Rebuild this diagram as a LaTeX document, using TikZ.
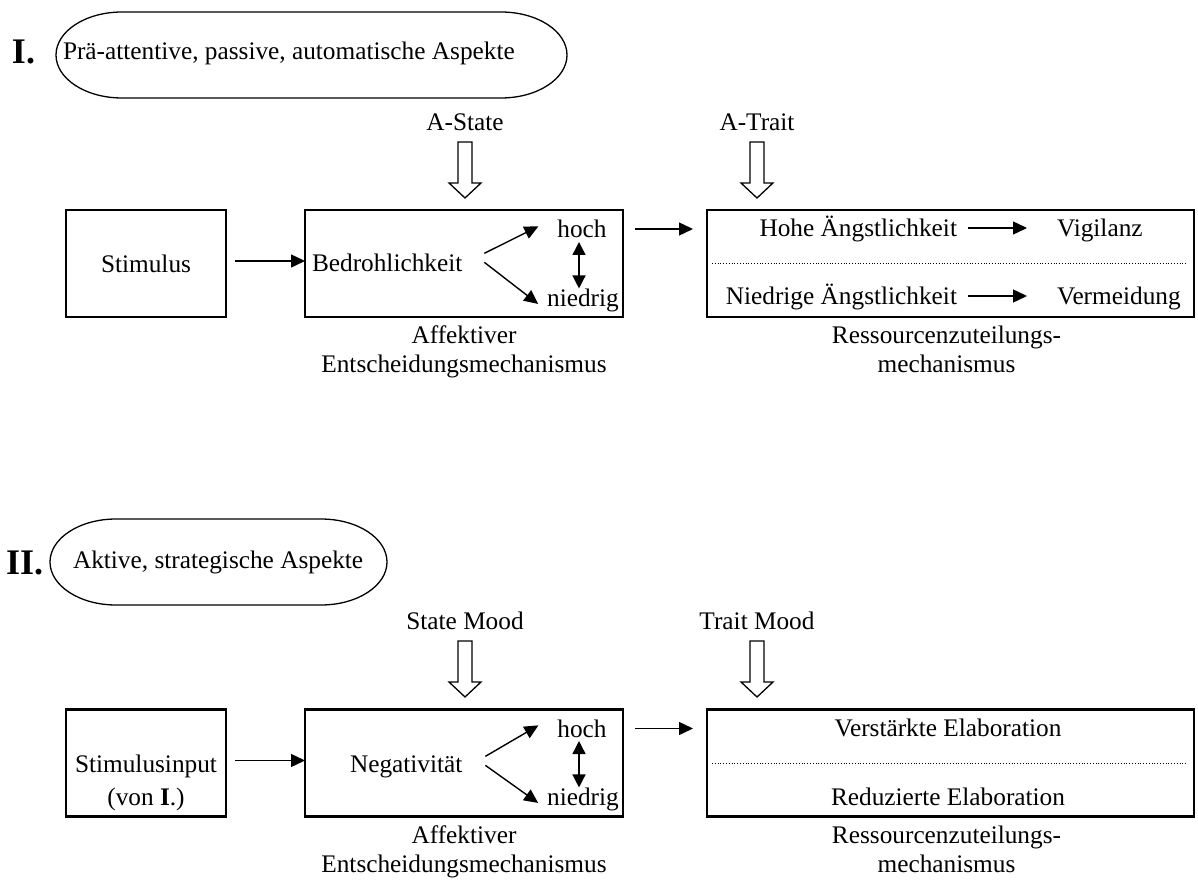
\documentclass[tikz,border=0pt]{standalone}
\usepackage{fontspec}
\setmainfont{Liberation Serif}
\usetikzlibrary{arrows.meta}
\begin{document}
\begin{tikzpicture}[x=1pt,y=-1pt,
  every node/.style={inner sep=0pt, outer sep=0pt, font=\fontsize{25.3}{29}\selectfont},
  box/.style={draw, line width=2.4pt, minimum height=107pt},
  arr/.style={line width=1.4pt, -{Triangle[length=14pt,width=13pt]}},
  darr/.style={line width=1.4pt, {Triangle[length=13pt,width=13pt]}-{Triangle[length=13pt,width=13pt]}},
  dotline/.style={dotted, line width=0.8pt},
  oval/.style={line width=1.3pt},
  roman/.style={font=\fontsize{36}{40}\selectfont\bfseries},
  lbl/.style={align=center, anchor=north},
  hollowarrow/.pic={\draw[line width=1.3pt] (-7,0) -- (7,0) -- (7,41) -- (16,41) -- (0,56) -- (-16,41) -- (-7,41) -- cycle;}
]
\useasboundingbox (0,0) rectangle (1198,882);

% ---------------- Part I ----------------
\node[roman, anchor=base west] (r1) at (12,64) {I.};
\draw[oval] (122,12) -- (501,12) arc[start angle=-90,end angle=90,x radius=66,y radius=43]
  -- (122,98) arc[start angle=90,end angle=270,x radius=66,y radius=43] -- cycle;
\node[anchor=base west] (h1) at (63,60) {Prä-attentive, passive, automatische Aspekte};

\node (astate) at (465,122) {A-State};
\pic at (465,142) {hollowarrow};
\node (atrait) at (757,122) {A-Trait};
\pic at (757,142) {hollowarrow};

\node[box, minimum width=160pt] (s1) at (146,263.5) {Stimulus};
\node[box, minimum width=318pt] (b1) at (464,263.5) {};
\node[box, minimum width=487pt] (c1) at (950.5,263.5) {};

\node[anchor=base west] (bed) at (312,272) {Bedrohlichkeit};
\node[anchor=base] (hoch1) at (582,238) {hoch};
\node[anchor=base] (nied1) at (583,306) {niedrig};
\draw[arr] ([shift={(22pt,10pt)}]bed.east) -- ([shift={(-19pt,3pt)}]hoch1.west);
\draw[arr] ([shift={(22pt,1pt)}]bed.east) -- ([shift={(-9pt,-4pt)}]nied1.west);
\draw[darr] ([shift={(-3pt,-4pt)}]hoch1.base) -- ([xshift=-3pt]hoch1.base |- nied1.north);

\draw[arr] ([yshift=2.5pt]s1.east) ++(9pt,0) -- ([yshift=2.5pt]b1.west);
\draw[arr] ([shift={(12pt,-19pt)}]b1.north east) -- ([shift={(-14pt,-19pt)}]c1.north west);

\node[anchor=base east] (hohe) at (957,237) {Hohe Ängstlichkeit};
\node[anchor=base west] (vig) at (1057,237) {Vigilanz};
\draw[arr] ([shift={(11pt,9pt)}]hohe.base east) -- ([shift={(-30pt,9pt)}]vig.base west);
\draw[dotline] ([xshift=5pt]c1.west) -- ([xshift=-7pt]c1.east);
\node[anchor=base east] (niedA) at (957,305) {Niedrige Ängstlichkeit};
\node[anchor=base west] (verm) at (1057,305) {Vermeidung};
\draw[arr] ([shift={(11pt,9pt)}]niedA.base east) -- ([shift={(-30pt,9pt)}]verm.base west);

\node[lbl] (l1) at ([yshift=-9pt]b1.south) {Affektiver\\Entscheidungsmechanismus};
\node[lbl] (l2) at ([shift={(-4pt,-9pt)}]c1.south) {Ressourcenzuteilungs-\\mechanismus};

% ---------------- Part II ----------------
\node[roman, anchor=base west] (r2) at (6,574) {II.};
\draw[oval] (116,519) -- (321,519) arc[start angle=-90,end angle=90,x radius=66,y radius=43]
  -- (116,605) arc[start angle=90,end angle=270,x radius=66,y radius=43] -- cycle;
\node[anchor=base west] (h2) at (73,568) {Aktive, strategische Aspekte};

\node (smood) at (465,621) {State Mood};
\pic at (465,641) {hollowarrow};
\node (tmood) at (757,621) {Trait Mood};
\pic at (757,641) {hollowarrow};

\node[box, minimum width=160pt] (s2) at (146,763) {};
\node[box, minimum width=318pt] (b2) at (464,763) {};
\node[box, minimum width=487pt] (c2) at (950.5,763) {};

\node[anchor=base] (si1) at (146,772) {Stimulusinput};
\node[anchor=base] (si2) at (146,805) {(von \textbf{I}.)};

\node[anchor=base west] (neg) at (350,772) {Negativität};
\node[anchor=base] (hoch2) at (582,737) {hoch};
\node[anchor=base] (nied2) at (583,805) {niedrig};
\draw[arr] ([shift={(23pt,10pt)}]neg.east) -- ([shift={(-19pt,3pt)}]hoch2.west);
\draw[arr] ([shift={(23pt,1pt)}]neg.east) -- ([shift={(-9pt,-4pt)}]nied2.west);
\draw[darr] ([shift={(-3pt,-4pt)}]hoch2.base) -- ([xshift=-3pt]hoch2.base |- nied2.north);

\draw[arr] ([yshift=2.5pt]s2.east) ++(9pt,0) -- ([yshift=2.5pt]b2.west);
\draw[arr] ([shift={(12pt,-19pt)}]b2.north east) -- ([shift={(-14pt,-19pt)}]c2.north west);

\node[anchor=base] (verst) at (948,736) {Verstärkte Elaboration};
\draw[dotline] ([xshift=5pt]c2.west) -- ([xshift=-7pt]c2.east);
\node[anchor=base] (red) at (948,805) {Reduzierte Elaboration};

\node[lbl] (l3) at ([yshift=-9pt]b2.south) {Affektiver\\Entscheidungsmechanismus};
\node[lbl] (l4) at ([shift={(-4pt,-9pt)}]c2.south) {Ressourcenzuteilungs-\\mechanismus};
\end{tikzpicture}
\end{document}
